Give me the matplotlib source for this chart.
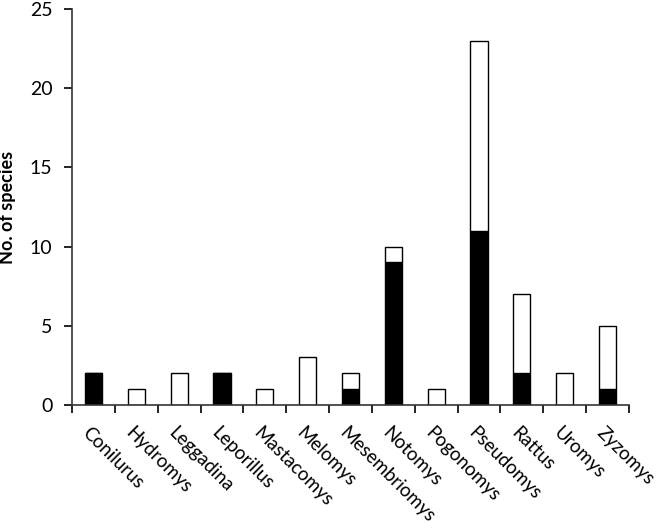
import numpy as np
import matplotlib.pyplot as plt

# Genus names and species counts (black = lower segment, white = upper segment).
genera = ["Conilurus", "Hydromys", "Leggadina", "Leporillus", "Mastacomys", "Melomys",
          "Mesembriomys", "Notomys", "Pogonomys", "Pseudomys", "Rattus", "Uromys", "Zyzomys"]
blackCounts = [2, 0, 0, 2, 0, 0, 1, 9, 0, 11, 2, 0, 1]
whiteCounts = [0, 1, 2, 0, 1, 3, 1, 1, 1, 12, 5, 2, 4]
yTicks = [0, 5, 10, 15, 20, 25]

plt.rcParams["font.family"] = ["Lato", "DejaVu Sans"]

fig = plt.figure(figsize=(6.62, 5.30), dpi=100)
ax = fig.add_axes([72 / 662, 1 - 405 / 530, (629 - 72) / 662, (405 - 9) / 530])

x = np.arange(len(genera))
blackCounts = np.array(blackCounts)
whiteCounts = np.array(whiteCounts)

# Stacked bars: black base, white top with black outline.
ax.bar(x, blackCounts, width=0.4, color="black", edgecolor="black", linewidth=1)
ax.bar(x, whiteCounts, width=0.4, bottom=blackCounts, color="white",
       edgecolor="black", linewidth=1)

ax.set_xlim(-0.5, len(genera) - 0.5)
ax.set_ylim(0, 25)
ax.set_yticks(yTicks)
ax.tick_params(axis="y", direction="out", length=6, width=1.2, labelsize=14, pad=8)
ax.set_ylabel("No. of species", fontsize=13, fontweight="bold", labelpad=10)

# Ticks between categories, labels rotated under each bar.
ax.set_xticks(np.arange(len(genera) + 1) - 0.5)
ax.set_xticklabels([])
ax.tick_params(axis="x", direction="out", length=6, width=1.2)
for xi, name in zip(x, genera):
  ax.text(xi - 0.05, -1.2, name, rotation=-45, rotation_mode="anchor",
          ha="left", va="top", fontsize=13.5)

for side in ["top", "right"]:
  ax.spines[side].set_visible(False)
for side in ["left", "bottom"]:
  ax.spines[side].set_linewidth(1.2)
  ax.spines[side].set_color("#333333")

plt.savefig("out.png", dpi=100)
